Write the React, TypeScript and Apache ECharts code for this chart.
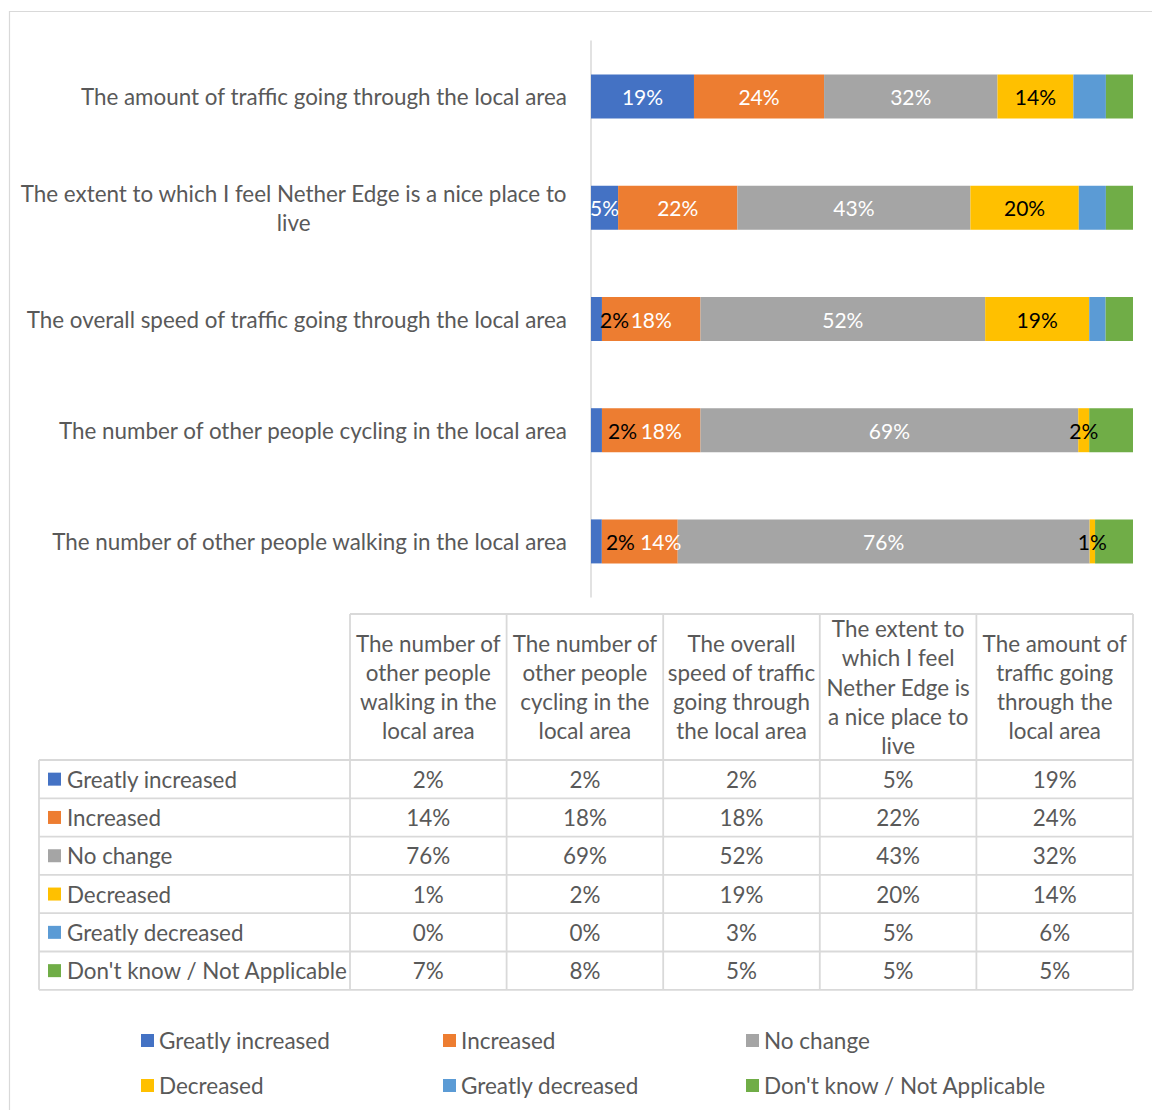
import React, { useEffect, useRef } from "react";
import * as echarts from "echarts";

const categories = [
  "The number of other people walking in the local area",
  "The number of other people cycling in the local area",
  "The overall speed of traffic going through the local area",
  "The extent to which I feel Nether Edge is a nice place to live",
  "The amount of traffic going through the local area",
];
const axisLabelLines: Record<number, string[]> = {
  3: ["The extent to which I feel Nether Edge is a nice place to", "live"],
};
const tableHeaders = [
  ["The number of", "other people", "walking in the", "local area"],
  ["The number of", "other people", "cycling in the", "local area"],
  ["The overall", "speed of traffic", "going through", "the local area"],
  ["The extent to", "which I feel", "Nether Edge is", "a nice place to", "live"],
  ["The amount of", "traffic going", "through the", "local area"],
];
const seriesNames = [
  "Greatly increased",
  "Increased",
  "No change",
  "Decreased",
  "Greatly decreased",
  "Don't know / Not Applicable",
];
const greatlyIncreased = [2, 2, 2, 5, 19];
const increased = [14, 18, 18, 22, 24];
const noChange = [76, 69, 52, 43, 32];
const decreased = [1, 2, 19, 20, 14];
const greatlyDecreased = [0, 0, 3, 5, 6];
const dontKnow = [7, 8, 5, 5, 5];
const seriesValues = [greatlyIncreased, increased, noChange, decreased, greatlyDecreased, dontKnow];

const colors = ["#4472C4", "#ED7D31", "#A5A5A5", "#FFC000", "#5B9BD5", "#70AD47"];
const FONT = "Lato, 'Open Sans', sans-serif";
const TEXT = "#595959";
const GRIDLINE = "#d9d9d9";
const CAT_FS = 22.4;
const TABLE_FS = 22.4;
const LEGEND_FS = 22.5;
const BAR_FS = 21;

// label styling per series: shown?, colour per category index, horizontal nudge
const labelShown = [true, true, true, true, false, false];
const labelColor = [
  ["#000", "#000", "#000", "#fff", "#fff"],
  ["#fff", "#fff", "#fff", "#fff", "#fff"],
  ["#fff", "#fff", "#fff", "#fff", "#fff"],
  ["#000", "#000", "#000", "#000", "#000"],
  ["#fff", "#fff", "#fff", "#fff", "#fff"],
  ["#fff", "#fff", "#fff", "#fff", "#fff"],
];
const labelNudge = [
  [24, 26, 18, 0, 0],
  [21, 10, 0, 0, 0],
  [0, 0, 0, 0, 0],
  [0, 0, 0, 0, 0],
  [0, 0, 0, 0, 0],
  [0, 0, 0, 0, 0],
];

export default function App() {
  const ref = useRef<HTMLDivElement>(null);
  useEffect(() => {
    if (!ref.current) return;
    const chart = echarts.init(ref.current, undefined, { renderer: "svg" });

    const rowSums = categories.map((_, c) =>
      seriesValues.reduce((s, arr) => s + arr[c], 0)
    );

    const series = seriesValues.map((vals, si) => ({
      name: seriesNames[si],
      type: "bar",
      stack: "total",
      barWidth: 44,
      itemStyle: { color: colors[si] },
      data: vals.map((v, ci) => ({
        value: (v / rowSums[ci]) * 100,
        label: {
          show: labelShown[si],
          color: labelColor[si][ci],
          offset: [labelNudge[si][ci], 0],
        },
      })),
      label: {
        show: labelShown[si],
        position: "inside",
        fontFamily: FONT,
        fontSize: BAR_FS,
        formatter: (p: any) => `${vals[p.dataIndex]}%`,
      },
    }));

    // table geometry
    const colX = [350, 506.6, 663.2, 819.8, 976.4, 1133];
    const tableLeft = 39;
    const headTop = 614;
    const rowY = [760, 798.3, 836.6, 874.9, 913.2, 951.5, 989.8];
    const headLine = 29.3;
    const graphics: any[] = [];
    graphics.push({
      type: "rect",
      silent: true,
      z: -10,
      shape: { x: 9.5, y: 11.5, width: 1300, height: 1300 },
      style: { fill: "none", stroke: GRIDLINE, lineWidth: 1.2 },
    });
    const line = (x1: number, y1: number, x2: number, y2: number) => ({
      type: "line",
      silent: true,
      shape: { x1, y1, x2, y2 },
      style: { stroke: GRIDLINE, lineWidth: 1.8 },
    });
    graphics.push(line(colX[0], headTop, colX[5], headTop));
    rowY.forEach((y) => graphics.push(line(tableLeft, y, colX[5], y)));
    colX.forEach((x) => graphics.push(line(x, headTop, x, rowY[6])));
    graphics.push(line(tableLeft, rowY[0], tableLeft, rowY[6]));
    const txt = (text: string, x: number, y: number, align: string) => ({
      type: "text",
      silent: true,
      x,
      y,
      style: {
        text,
        fill: TEXT,
        fontFamily: FONT,
        fontSize: TABLE_FS,
        align,
        verticalAlign: "middle",
        textAlign: align,
        textVerticalAlign: "middle",
      },
    });
    const headMid = (headTop + rowY[0]) / 2;
    tableHeaders.forEach((lines, c) => {
      const cx = (colX[c] + colX[c + 1]) / 2;
      const n = lines.length;
      lines.forEach((l, i) => {
        graphics.push(txt(l, cx, headMid + (i - (n - 1) / 2) * headLine, "center"));
      });
    });
    seriesNames.forEach((name, r) => {
      const cy = (rowY[r] + rowY[r + 1]) / 2;
      graphics.push({
        type: "rect",
        silent: true,
        shape: { x: 48, y: cy - 6.5, width: 13, height: 13 },
        style: { fill: colors[r] },
      });
      graphics.push(txt(name, 67, cy, "left"));
      seriesValues[r].forEach((v, c) => {
        const cx = (colX[c] + colX[c + 1]) / 2;
        graphics.push(txt(`${v}%`, cx, cy, "center"));
      });
    });

    const legendX = [141, 443, 746];
    const legendY = [1042, 1087];
    const legend = seriesNames.map((n, i) => ({
      data: [n],
      left: legendX[i % 3],
      top: legendY[Math.floor(i / 3)] - 13,
      icon: "rect",
      itemWidth: 13,
      itemHeight: 13,
      padding: 0,
      selectedMode: false,
      textStyle: { fontFamily: FONT, fontSize: LEGEND_FS, color: TEXT },
    }));

    chart.setOption({
      animation: false,
      color: colors,
      legend,
      grid: { left: 591, top: 41, width: 542, height: 556, containLabel: false },
      xAxis: {
        type: "value",
        min: 0,
        max: 100,
        show: false,
        splitLine: { show: false },
      },
      yAxis: {
        type: "category",
        data: categories,
        axisLine: { show: true, lineStyle: { color: GRIDLINE, width: 1.5 } },
        axisTick: { show: false },
        axisLabel: {
          margin: 24,
          fontFamily: FONT,
          fontSize: CAT_FS,
          color: TEXT,
          lineHeight: 29,
          formatter: (v: string, idx: number) => {
            const lines = axisLabelLines[idx];
            if (!lines) return v;
            return lines.map((l) => `{c|${l}}`).join("\n");
          },
          rich: {
            c: {
              align: "center",
              fontFamily: FONT,
              fontSize: CAT_FS,
              color: TEXT,
              lineHeight: 29,
            },
          },
        },
      },
      graphic: graphics,
      series,
    });
    return () => chart.dispose();
  }, []);
  return (
    <div
      ref={ref}
      style={{ position: "absolute", left: 0, top: 0, width: 1152, height: 1110, background: "#fff" }}
    />
  );
}
